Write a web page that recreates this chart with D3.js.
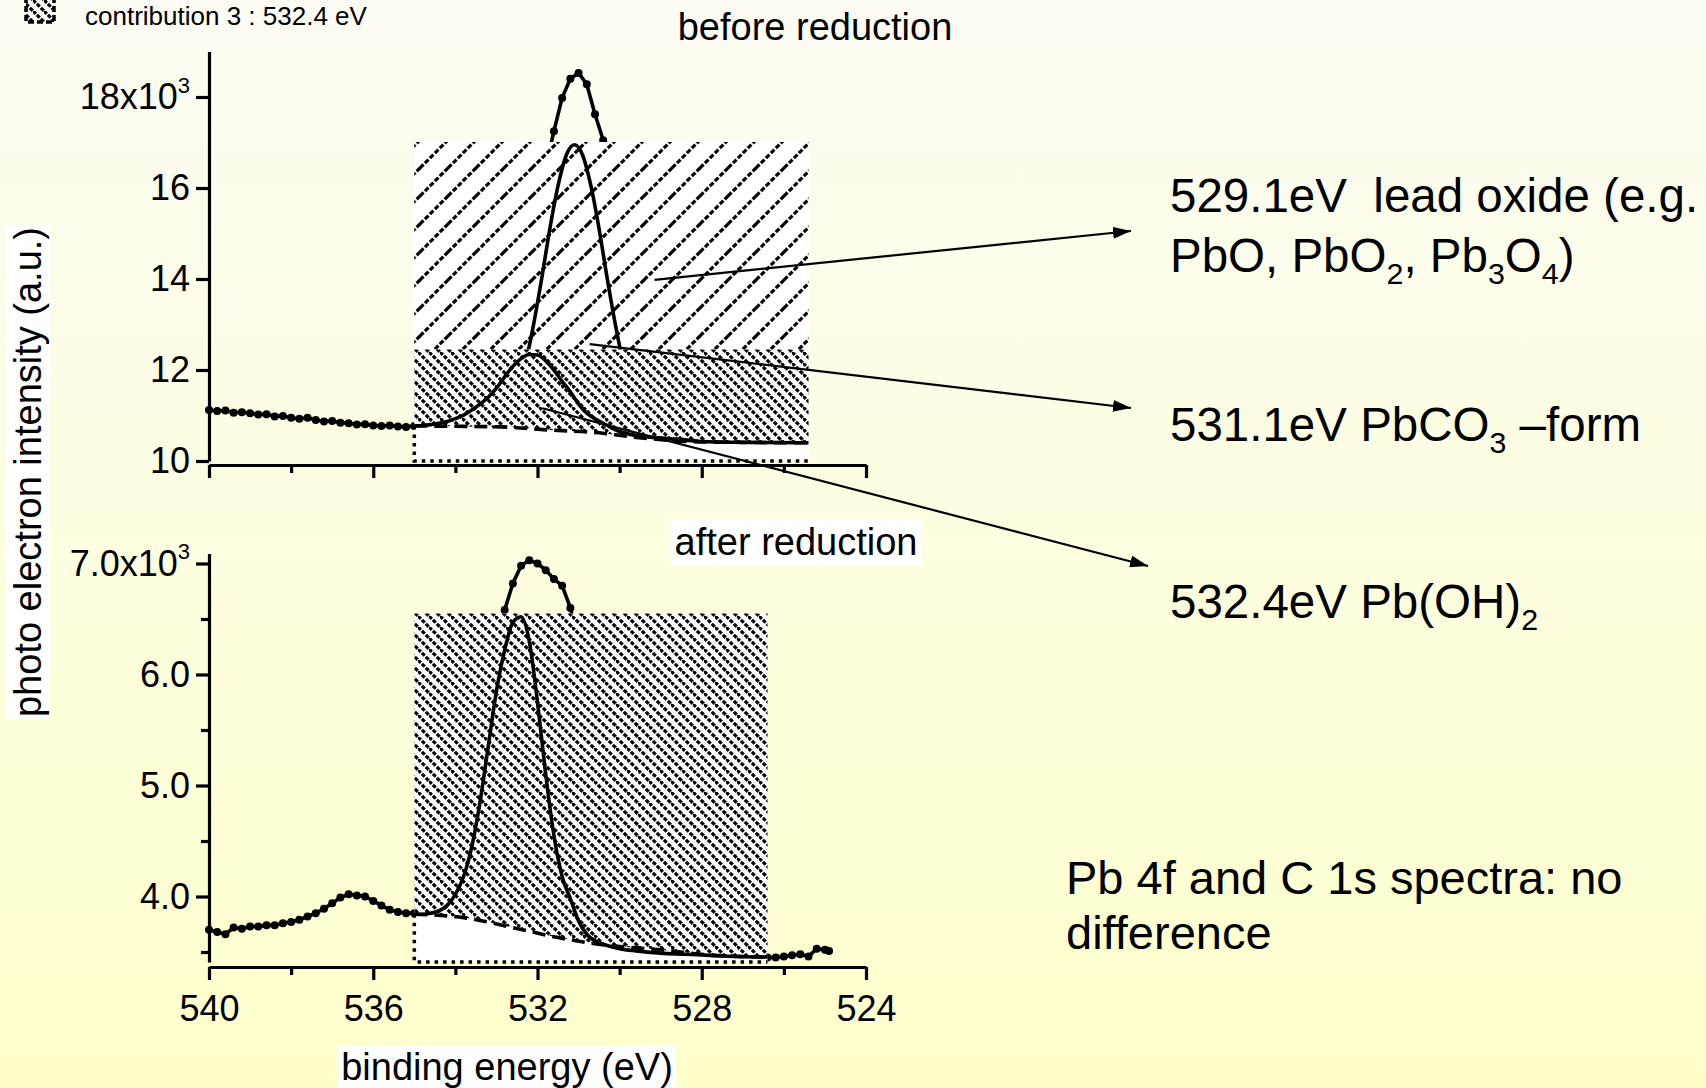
<!DOCTYPE html>
<html>
<head>
<meta charset="utf-8">
<script src="https://cdn.jsdelivr.net/npm/d3@7"></script>
<style>
  body { margin: 0; overflow: hidden; }
  svg { display: block; }
  text { font-family: "Liberation Sans", Arial, sans-serif; fill: #000; }
</style>
</head>
<body>
<svg id="chart" width="1706" height="1088"></svg>
<script>
// ---- data: [binding energy (eV), intensity] ----
// before reduction (intensity in 10^3 counts)
const beforeData = [
  [540.0,11.12],[539.8,11.10],[539.6,11.11],[539.4,11.06],[539.2,11.07],[539.0,11.05],
  [538.8,11.02],[538.6,11.03],[538.4,10.98],[538.2,10.99],[538.0,10.95],[537.8,10.93],
  [537.6,10.95],[537.4,10.90],[537.2,10.87],[537.0,10.88],[536.8,10.84],[536.6,10.83],
  [536.4,10.80],[536.2,10.81],[536.0,10.78],[535.8,10.77],[535.6,10.78],[535.4,10.76],
  [535.2,10.75],[535.0,10.77],[534.8,10.80],[534.6,10.86],[534.4,10.95],[534.2,11.07],
  [534.0,11.22],[533.8,11.40],[533.6,11.60],[533.4,11.85],[533.2,12.12],[533.0,12.45],
  [532.8,12.85],[532.6,13.35],[532.4,13.95],[532.2,14.70],[532.0,15.55],[531.8,16.45],
  [531.6,17.25],[531.4,17.98],[531.2,18.40],[531.0,18.53],[530.8,18.28],[530.6,17.62],
  [530.4,17.05],[530.2,16.00],[530.0,14.90],[529.8,13.70],[529.6,12.70],[529.4,11.90],
  [529.2,11.35],[529.0,10.98],[528.8,10.76],[528.6,10.62],[528.4,10.55],[528.2,10.50],
  [528.0,10.48],[527.6,10.45],[527.2,10.43],[526.8,10.42],[526.4,10.41],[526.0,10.40]
];
// fit component at 531.1 eV (tall one)
const beforeFitA = [
  [533.1,10.74],[532.9,10.85],[532.7,11.08],[532.5,11.50],[532.3,12.12],[532.1,12.98],
  [531.9,14.00],[531.7,15.10],[531.5,16.05],[531.3,16.72],[531.1,16.95],[530.9,16.72],
  [530.7,16.05],[530.5,15.10],[530.3,14.00],[530.1,12.98],[529.9,12.10],[529.7,11.45],
  [529.5,11.00],[529.3,10.72],[529.1,10.58]
];
// fit component near 532 eV (small one)
const beforeFitB = [
  [535.0,10.77],[534.8,10.78],[534.6,10.80],[534.4,10.83],[534.2,10.87],[534.0,10.93],
  [533.8,11.01],[533.6,11.12],[533.4,11.25],[533.2,11.40],[533.0,11.60],[532.8,11.85],
  [532.6,12.08],[532.4,12.25],[532.2,12.34],[532.0,12.33],[531.8,12.20],[531.6,12.00],
  [531.4,11.75],[531.2,11.52],[531.0,11.25],[530.8,11.05],[530.6,10.93],[530.4,10.83],
  [530.2,10.73],[530.0,10.65],[529.8,10.60],[529.6,10.56],[529.4,10.54],[529.2,10.52],
  [528.6,10.48],[528.0,10.43],[527.0,10.41],[525.4,10.40]
];
const beforeBase = [
  [535.0,10.77],[532.9,10.75],[531.7,10.68],[530.5,10.62],[529.7,10.53],[528.0,10.42],[525.4,10.40]
];
// filled areas of the fit (as they appear: boxes)
const beforeBox = { left: 535.0, right: 525.4, top: 17.01, mid: 12.45 };

// after reduction
const afterData = [
  [540.0,3.70],[539.8,3.68],[539.6,3.66],[539.4,3.72],[539.2,3.71],[539.0,3.73],
  [538.8,3.73],[538.6,3.74],[538.4,3.74],[538.2,3.76],[538.0,3.77],[537.8,3.79],
  [537.6,3.82],[537.4,3.85],[537.2,3.89],[537.0,3.94],[536.8,3.99],[536.6,4.02],
  [536.4,4.01],[536.2,4.00],[536.0,3.96],[535.8,3.92],[535.6,3.88],[535.4,3.86],
  [535.2,3.85],[535.0,3.85],[534.8,3.87],[534.6,3.92],[534.4,4.02],[534.2,4.20],
  [534.0,4.45],[533.8,4.78],[533.6,5.15],[533.4,5.55],[533.2,5.95],[533.0,6.30],
  [532.8,6.58],[532.6,6.82],[532.4,6.98],[532.2,7.03],[532.0,7.00],[531.8,6.94],
  [531.6,6.86],[531.4,6.80],[531.2,6.60],[531.0,6.30],[530.8,5.95],[530.6,5.55],
  [530.4,5.10],[530.2,4.70],[530.0,4.35],[529.8,4.05],[529.6,3.85],[529.4,3.72],
  [529.2,3.64],[529.0,3.58],[528.6,3.54],[528.2,3.51],[527.8,3.49],[527.4,3.47],
  [527.0,3.46],[526.6,3.46],[526.4,3.45],[526.2,3.45],[526.0,3.46],[525.8,3.47],
  [525.6,3.48],[525.4,3.46],[525.2,3.53],[525.0,3.52],[524.9,3.51]
];
const afterFit = [
  [535.0,3.84],[534.8,3.84],[534.6,3.85],[534.4,3.87],[534.2,3.92],[534.0,4.02],
  [533.8,4.18],[533.6,4.45],[533.4,4.85],[533.2,5.35],[533.0,5.85],[532.8,6.22],
  [532.6,6.47],[532.4,6.52],[532.2,6.30],[532.0,5.75],[531.8,5.10],[531.6,4.55],
  [531.4,4.18],[531.2,3.98],[531.0,3.78],[530.8,3.66],[530.6,3.60],[530.4,3.57],
  [530.0,3.53],[529.6,3.51],[529.0,3.49],[528.4,3.48],[527.8,3.47],[527.2,3.46],[526.4,3.455]
];
const afterBase = [
  [535.0,3.84],[533.8,3.81],[532.6,3.72],[531.5,3.63],[530.3,3.56],[529.0,3.52],[527.7,3.47],[526.4,3.455]
];
const afterBox = { left: 535.0, right: 526.4, top: 6.55 };

// axis ticks
const xMajor = [540, 536, 532, 528, 524];
const xMinor = [538, 534, 530, 526];
const topYMajor = [10, 12, 14, 16, 18];
const botYMajor = [4, 5, 6, 7];
const botYMinor = [3.5, 4.5, 5.5, 6.5];

// annotation arrows start on the plot (data units)
const arrowStarts = [[529.15, 13.98], [530.73, 12.57], [531.88, 11.16]];

const svg = d3.select("#chart");
const W = 1706, H = 1088;

// ---- defs ----
const defs = svg.append("defs");
const grad = defs.append("linearGradient").attr("id", "bg").attr("x1", 0).attr("y1", 0).attr("x2", 0).attr("y2", 1);
grad.append("stop").attr("offset", "0%").attr("stop-color", "#fcfcf4");
grad.append("stop").attr("offset", "100%").attr("stop-color", "#ffffcc");

defs.append("pattern").attr("id", "hatchUp").attr("patternUnits", "userSpaceOnUse")
  .attr("width", 28).attr("height", 28)
  .append("path").attr("d", "M-7,7 L7,-7 M0,28 L28,0 M21,35 L35,21")
  .attr("stroke", "#000").attr("stroke-width", 3.2).attr("stroke-dasharray", "5 2");

defs.append("pattern").attr("id", "hatchDown").attr("patternUnits", "userSpaceOnUse")
  .attr("width", 11).attr("height", 11)
  .append("path").attr("d", "M-3,8 L3,14 M0,0 L11,11 M8,-3 L14,3")
  .attr("stroke", "#000").attr("stroke-width", 3.2).attr("stroke-dasharray", "4 1.5");

defs.append("marker").attr("id", "arrow").attr("markerUnits", "userSpaceOnUse")
  .attr("markerWidth", 18).attr("markerHeight", 12).attr("refX", 18).attr("refY", 6)
  .attr("orient", "auto")
  .append("path").attr("d", "M0,0 L18,6 L0,12 Z").attr("fill", "#000");

svg.append("rect").attr("width", W).attr("height", H).attr("fill", "url(#bg)");

// ---- scales ----
const x = d3.scaleLinear().domain([540, 524]).range([209, 866]);
const yTop = d3.scaleLinear().domain([10, 19]).range([461, 51.5]);
const yBot = d3.scaleLinear().domain([3.41, 7.09]).range([962, 553.5]);

function lineOf(y, curve) {
  return d3.line().x(d => x(d[0])).y(d => y(d[1])).curve(curve || d3.curveLinear);
}

function drawData(y, data) {
  const g = svg.append("g");
  g.append("path").datum(data).attr("d", lineOf(y))
    .attr("fill", "none").attr("stroke", "#000").attr("stroke-width", 3.6);
  g.selectAll("circle").data(data).join("circle")
    .attr("cx", d => x(d[0])).attr("cy", d => y(d[1])).attr("r", 4).attr("fill", "#000");
}

function drawCurve(y, data, dash) {
  svg.append("path").datum(data).attr("d", lineOf(y, d3.curveMonotoneX))
    .attr("fill", "none").attr("stroke", "#000").attr("stroke-width", 3.6)
    .attr("stroke-dasharray", dash || null);
}

function hatchArea(y, base, level, pattern, opaque) {
  const area = d3.area().x(d => x(d[0])).y0(d => y(d[1])).y1(() => y(level)).curve(d3.curveMonotoneX);
  if (opaque) svg.append("path").datum(base).attr("d", area).attr("fill", "#fff");
  svg.append("path").datum(base).attr("d", area).attr("fill", `url(#${pattern})`);
}

function whiteBox(y, box) {
  const yMin = y.range()[0];
  svg.append("rect")
    .attr("x", x(box.left)).attr("y", y(box.top))
    .attr("width", x(box.right) - x(box.left)).attr("height", yMin - y(box.top))
    .attr("fill", "#fff");
}

function dottedEdge(y, box, base) {
  const yMin = y.range()[0];
  svg.append("path")
    .attr("d", `M${x(box.left)},${y(base[0][1])} V${yMin} H${x(box.right)}`)
    .attr("fill", "none").attr("stroke", "#000").attr("stroke-width", 3.5)
    .attr("stroke-dasharray", "3.5 5");
}

// ---- top panel: before reduction ----
drawData(yTop, beforeData);
whiteBox(yTop, beforeBox);
hatchArea(yTop, beforeBase, beforeBox.top, "hatchUp", false);
drawCurve(yTop, beforeFitA);
hatchArea(yTop, beforeBase, beforeBox.mid, "hatchDown", true);
drawCurve(yTop, beforeFitB);
drawCurve(yTop, beforeBase, "13 7");
dottedEdge(yTop, beforeBox, beforeBase);

// ---- bottom panel: after reduction ----
drawData(yBot, afterData);
whiteBox(yBot, afterBox);
hatchArea(yBot, afterBase, afterBox.top, "hatchDown", false);
drawCurve(yBot, afterFit);
drawCurve(yBot, afterBase, "13 7");
dottedEdge(yBot, afterBox, afterBase);

// ---- axes ----
function styleAxis(g) {
  g.attr("font-size", 36).attr("font-family", '"Liberation Sans", Arial, sans-serif');
  g.selectAll("path.domain, line").attr("stroke", "#000").attr("stroke-width", 3.2);
  g.selectAll("text").attr("fill", "#000");
}

function yAxis(y, majors, minors, fmt, expTick) {
  const g = svg.append("g").attr("transform", `translate(${x(540)},0)`);
  g.call(d3.axisLeft(y).tickValues(majors).tickSize(13).tickSizeOuter(0).tickPadding(6).tickFormat(fmt));
  if (minors) {
    const m = g.append("g").call(d3.axisLeft(y).tickValues(minors).tickSize(8).tickFormat(""));
    m.select(".domain").remove();
  }
  g.selectAll(".tick text").filter(d => d === expTick)
    .append("tspan").attr("dy", "-0.75em").attr("font-size", 22).text("3");
  styleAxis(g);
}

function xAxis(yPos, labels) {
  const g = svg.append("g").attr("transform", `translate(0,${yPos})`);
  g.call(d3.axisBottom(x).tickValues(xMajor).tickSize(13).tickSizeOuter(0).tickPadding(15)
    .tickFormat(labels ? d3.format("d") : ""));
  const m = g.append("g").call(d3.axisBottom(x).tickValues(xMinor).tickSize(8).tickFormat(""));
  m.select(".domain").remove();
  styleAxis(g);
}

yAxis(yTop, topYMajor, null, d => d === 18 ? "18x10" : d, 18);
yAxis(yBot, botYMajor, botYMinor, d => d === 7 ? "7.0x10" : d3.format(".1f")(d), 7);
xAxis(465, false);
xAxis(967, true);

// ---- titles ----
function boxedText(parent, tx, ty, txt, size, pad) {
  const g = parent.append("g");
  const r = g.append("rect").attr("fill", "#fff");
  const t = g.append("text").attr("x", tx).attr("y", ty).attr("text-anchor", "middle")
    .attr("font-size", size).text(txt);
  const b = t.node().getBBox();
  r.attr("x", b.x - pad[0]).attr("y", b.y - pad[1])
    .attr("width", b.width + 2 * pad[0]).attr("height", b.height + 2 * pad[1]);
  return g;
}

boxedText(svg, 507, 1080, "binding energy (eV)", 38, [3, 1]);
const yt = svg.append("g").attr("transform", "translate(41,472) rotate(-90)");
boxedText(yt, 0, 0, "photo electron intensity (a.u.)", 38, [2, 1]);
boxedText(svg, 796, 555, "after reduction", 38, [4, 2]);

svg.append("text").attr("x", 815).attr("y", 40).attr("text-anchor", "middle")
  .attr("font-size", 38).text("before reduction");

// legend remnant at the top edge
svg.append("rect").attr("x", 26).attr("y", -2).attr("width", 28).attr("height", 24)
  .attr("fill", "url(#hatchDown)").attr("stroke", "#000").attr("stroke-width", 3.5)
  .attr("stroke-dasharray", "6 3");
svg.append("text").attr("x", 85).attr("y", 25).attr("font-size", 26)
  .text("contribution 3 : 532.4 eV");

// ---- annotations ----
const labelX = 1170;
function richText(xp, yp, size, parts) {
  const t = svg.append("text").attr("x", xp).attr("y", yp).attr("font-size", size)
    .style("white-space", "pre");
  let shifted = false;
  parts.forEach(p => {
    const isSub = Array.isArray(p);
    const s = t.append("tspan").text(isSub ? p[0] : p);
    if (isSub && !shifted) { s.attr("dy", 12).attr("font-size", size * 0.64); shifted = true; }
    else if (isSub) { s.attr("font-size", size * 0.64); }
    else if (shifted) { s.attr("dy", -12); shifted = false; }
  });
  return t;
}

richText(labelX, 212, 47.5, ["529.1eV  lead oxide (e.g."]);
richText(labelX, 272, 47.5, ["PbO, PbO", ["2"], ", Pb", ["3"], "O", ["4"], ")"]);
richText(labelX, 441, 47.5, ["531.1eV PbCO", ["3"], " \u2013form"]);
richText(labelX, 618, 47.5, ["532.4eV Pb(OH)", ["2"]]);

const arrowEnds = [[labelX - 39, 231], [labelX - 39, 408], [labelX - 22, 566]];
arrowStarts.forEach((s, i) => {
  svg.append("line")
    .attr("x1", x(s[0])).attr("y1", yTop(s[1]))
    .attr("x2", arrowEnds[i][0]).attr("y2", arrowEnds[i][1])
    .attr("stroke", "#000").attr("stroke-width", 2.2)
    .attr("marker-end", "url(#arrow)");
});

svg.append("text").attr("x", 1066).attr("y", 894).attr("font-size", 47)
  .text("Pb 4f and C 1s spectra: no");
svg.append("text").attr("x", 1066).attr("y", 949).attr("font-size", 47)
  .text("difference");
</script>
</body>
</html>
